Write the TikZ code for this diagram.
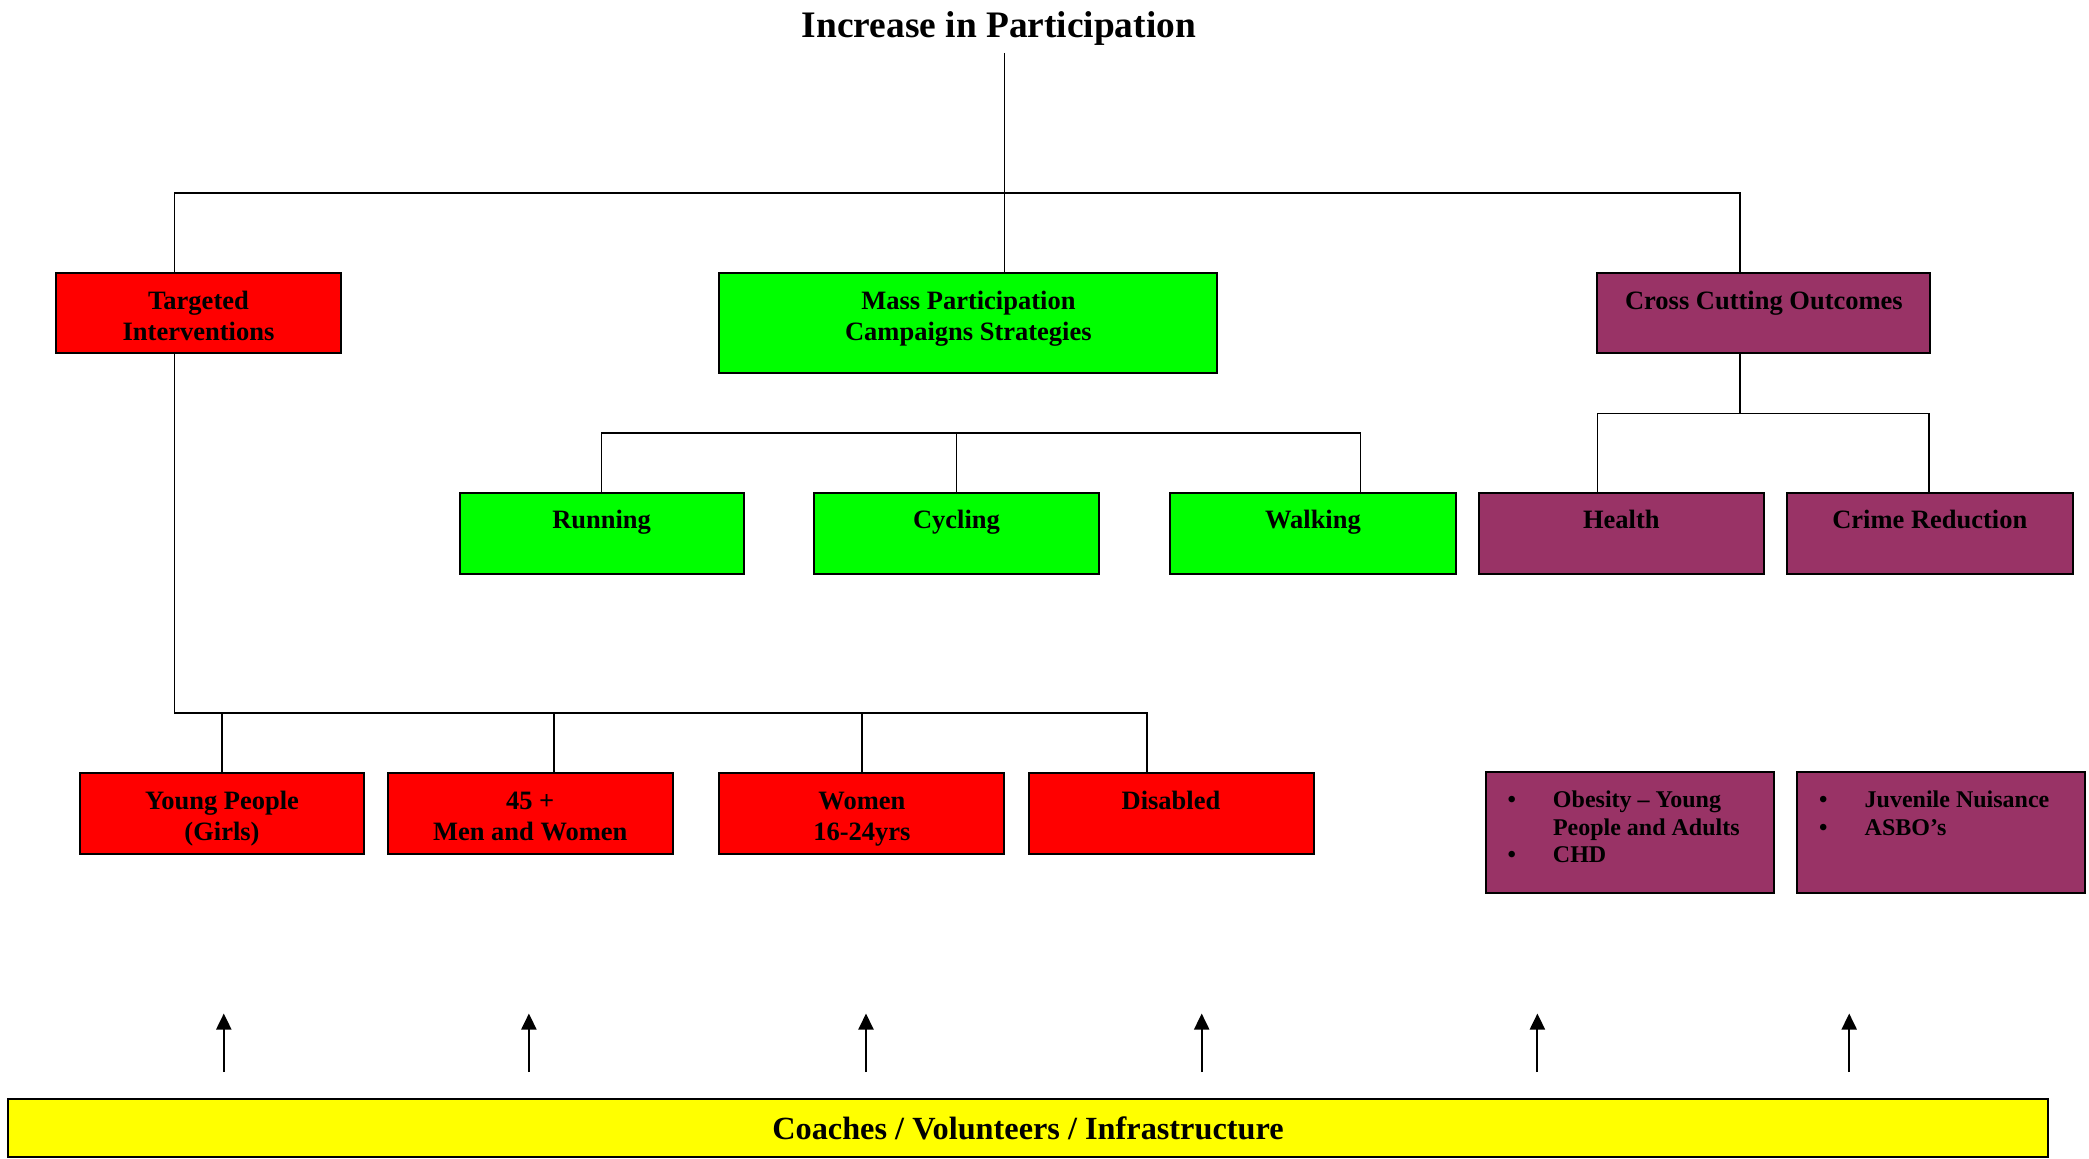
\documentclass[tikz,border=0pt]{standalone}
\usepackage{fontspec}
\setmainfont{Liberation Serif}
\usetikzlibrary{arrows.meta}
\definecolor{myred}{RGB}{255,0,0}
\definecolor{mygreen}{RGB}{0,255,0}
\definecolor{myplum}{RGB}{153,51,102}
\definecolor{myyellow}{RGB}{255,255,0}
\newcommand{\bxt}[3]{\parbox[b][#2][t]{#1}{\centering\rule{0pt}{36.3pt}#3}}
\newcommand{\bitem}{\hspace*{22pt}\makebox[45.5pt][l]{\textbullet}}
\begin{document}
\begin{tikzpicture}[x=1pt,y=-1pt,
  box/.style={draw=black, line width=2pt, inner sep=0pt, outer sep=0pt, anchor=north west,
    font=\fontsize{26.5}{31.3}\selectfont\bfseries},
  lbox/.style={box, font=\fontsize{24}{27.6}\selectfont\bfseries},
  conn/.style={draw=black, line width=1.5pt},
  arr/.style={draw=black, line width=2pt, -{Triangle[length=16pt,width=15pt]}}]
\useasboundingbox (0,0) rectangle (2089,1159);

\node[font=\fontsize{37.4}{41}\selectfont\bfseries, inner sep=0pt, anchor=base] (title) at (999,37.8) {Increase in Participation};

\node[box, fill=myred] (ti) at (56,273) {\bxt{285pt}{80pt}{Targeted\\Interventions}};
\node[box, fill=mygreen] (mp) at (719.4,273) {\bxt{498pt}{100pt}{Mass Participation\\Campaigns Strategies}};
\node[box, fill=myplum] (cc) at (1597.4,273) {\bxt{333pt}{80pt}{Cross Cutting Outcomes}};

\node[box, fill=mygreen] (run) at (459.6,492.5) {\bxt{284pt}{81pt}{Running}};
\node[box, fill=mygreen] (cyc) at (814,492.5) {\bxt{285pt}{81pt}{Cycling}};
\node[box, fill=mygreen] (walk) at (1169.7,492.5) {\bxt{286.5pt}{81pt}{Walking}};
\node[box, fill=myplum] (health) at (1478.8,492.5) {\bxt{285pt}{81pt}{Health}};
\node[box, fill=myplum] (crime) at (1786.6,492.5) {\bxt{286.4pt}{81pt}{Crime Reduction}};

\node[box, fill=myred] (yp) at (80,773) {\bxt{284pt}{81pt}{Young People\\(Girls)}};
\node[box, fill=myred] (m45) at (387.7,773) {\bxt{285pt}{81pt}{45 +\\Men and Women}};
\node[box, fill=myred] (women) at (719.4,773) {\bxt{285pt}{81pt}{Women\\16-24yrs}};
\node[box, fill=myred] (dis) at (1028.5,773) {\bxt{285pt}{81pt}{Disabled}};

\node[lbox, fill=myplum] (ob) at (1485.5,771.5) {\parbox[b][121pt][t]{288pt}{\raggedright\rule{0pt}{36pt}\bitem Obesity – Young\\\hspace*{67.5pt}People and Adults\\\bitem CHD}};
\node[lbox, fill=myplum] (juv) at (1797.2,771.5) {\parbox[b][121pt][t]{288pt}{\raggedright\rule{0pt}{36pt}\bitem Juvenile Nuisance\\\bitem ASBO’s}};

\node[box, fill=myyellow, font=\fontsize{32.3}{36}\selectfont\bfseries] (bar) at (8,1099) {\parbox[c][58pt][c]{2040pt}{\centering Coaches / Volunteers / Infrastructure}};

% top tree
\coordinate (tj) at (1004.6,193);
\coordinate (tl) at (174.5,193);
\coordinate (tr) at (1740,193);
\draw[conn] ([yshift=-7pt]title.south -| tj) -- (tj |- mp.north);
\draw[conn] (tl |- ti.north) -- (tl) -- (tr) -- (tr |- cc.north);

% green tree
\coordinate (gl) at (600.9,433);
\coordinate (gr) at (1360.3,433);
\draw[conn] (run.north) -- (run.north |- gl) -- (gr) -- (gr |- walk.north);
\draw[conn] (cyc.north |- gl) -- (cyc.north);

% plum tree
\coordinate (rj) at (1740,413.3);
\coordinate (rl) at (1597.4,413.3);
\coordinate (rr) at (1929,413.3);
\draw[conn] (rj |- cc.south) -- (rj);
\draw[conn] (rl |- health.north) -- (rl) -- (rr) -- (rr |- crime.north);

% left tree
\coordinate (lj) at (174.5,713);
\coordinate (lr) at (1147,713);
\coordinate (l2) at (554.2,713);
\draw[conn] (lj |- ti.south) -- (lj) -- (lr) -- (lr |- dis.north);
\draw[conn] (yp.north |- lj) -- (yp.north);
\draw[conn] (l2) -- (l2 |- m45.north);
\draw[conn] (women.north |- lj) -- (women.north);

% arrows
\coordinate (a1) at (223.8,1013.5);
\coordinate (a2) at (528.9,1013.5);
\coordinate (a3) at (866,1013.5);
\coordinate (a4) at (1201.7,1013.5);
\coordinate (a5) at (1537.4,1013.5);
\coordinate (a6) at (1849.2,1013.5);
\foreach \a in {a1,a2,a3,a4,a5,a6}
  \draw[arr] ([yshift=27pt]bar.north -| \a) -- (\a);
\end{tikzpicture}
\end{document}
